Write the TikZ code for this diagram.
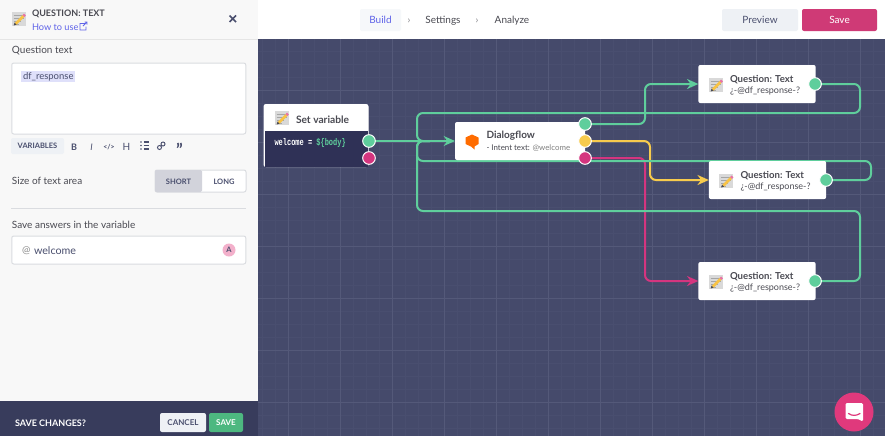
\documentclass[tikz,border=0pt]{standalone}
\usepackage{fontspec}
\setmainfont{Lato}
\newfontfamily\codefont[FakeStretch=0.72]{Liberation Mono}
\usetikzlibrary{arrows.meta,shapes.geometric}
\definecolor{canvas}{HTML}{454A6B}
\definecolor{gridminor}{HTML}{494E6F}
\definecolor{gridmajor}{HTML}{545979}
\definecolor{panel}{HTML}{F8F8F8}
\definecolor{bar}{HTML}{383C5C}
\definecolor{ink}{HTML}{4A4A52}
\definecolor{navy}{HTML}{4A4F6E}
\definecolor{linkblue}{HTML}{5F63E8}
\definecolor{edgegray}{HTML}{DADCE0}
\definecolor{chip}{HTML}{EEF1F5}
\definecolor{green}{HTML}{5FCE9C}
\definecolor{yellowl}{HTML}{F7CB4D}
\definecolor{pink}{HTML}{D4357F}
\definecolor{savebtn}{HTML}{CF3A76}
\definecolor{savegreen}{HTML}{4DB880}
\definecolor{codebg}{HTML}{2F3156}
\definecolor{chat}{HTML}{E0397C}
\pgfdeclarelayer{grid}\pgfdeclarelayer{conn}\pgfsetlayers{grid,conn,main}
\newcommand{\pxs}[1]{\fontsize{\dimexpr#1pt*3/4\relax}{\dimexpr#1pt\relax}\selectfont}
\tikzset{
  x=0.75pt,y=-0.75pt,
  txt/.style={inner sep=0pt,outer sep=0pt,anchor=west,text=ink,yshift=-0.6pt,font=\pxs{10}},
  ctxt/.style={inner sep=0pt,outer sep=0pt,anchor=center,text=navy,yshift=-0.6pt,font=\pxs{10}},
  tool/.style={ctxt,font=\pxs{9}\bfseries},
  box/.style={draw=edgegray,line width=0.75pt,fill=white,rounded corners=1.5pt,inner sep=0pt,outer sep=0pt},
  card/.style={fill=white,rounded corners=1.5pt,inner sep=0pt,outer sep=0pt,minimum width=88pt,minimum height=28.5pt},
  portg/.style={circle,fill=green,draw=white,line width=0.75pt,minimum size=9.5pt,inner sep=0pt,outer sep=0pt},
  porty/.style={portg,fill=yellowl},
  portp/.style={portg,fill=pink},
  wire/.style={line width=1.5pt,rounded corners=4.5pt},
  tipped/.style={-{Stealth[length=8.5pt,width=7.5pt]}},
  memo/.pic={
    \fill[black!15] (-7,-7) rectangle (7,7);
    \draw[black!35,line width=0.4pt] (-5,-4) -- (5,-4) (-5,-1) -- (5,-1) (-5,2) -- (2,2) (-5,5) -- (0,5);
    \draw[yellowl!90!orange,line width=2pt] (-3,5) -- (5,-3);
    \draw[chat!70,line width=2pt] (5,-3) -- (6.5,-4.5);
    \fill[ink] (-4.8,6.5) -- (-4,3.7) -- (-2,5.7) -- cycle;
  }
}
\begin{document}
\begin{tikzpicture}
\useasboundingbox (0,0) rectangle (885,436);
\begin{pgfonlayer}{grid}
\fill[canvas] (0,0) rectangle (885,436);
\foreach \k in {0,...,48}{\draw[gridminor,line width=0.4pt] (\k*13+262,39) -- (\k*13+262,436);}
\foreach \k in {0,...,31}{\draw[gridminor,line width=0.4pt] (258,\k*13+38) -- (885,\k*13+38);}
\foreach \k in {0,...,12}{\draw[gridmajor,line width=0.6pt] (\k*52+288,39) -- (\k*52+288,436);}
\foreach \k in {0,...,7}{\draw[gridmajor,line width=0.6pt] (258,\k*52+38) -- (885,\k*52+38);}
\end{pgfonlayer}

% top bar
\fill[white] (258,0) rectangle (885,39);
\node[fill=chip!50!white,rounded corners=1.5pt,minimum width=30.75pt,minimum height=16.5pt,inner sep=0pt,text=linkblue,font=\pxs{10}] (build) at (380.5,20) {Build};
\node[ctxt,text=ink!70] (sep1) at (409,20) {›};
\node[ctxt,text=ink] (settings) at (443,20) {Settings};
\node[ctxt,text=ink!70] (sep2) at (477,20) {›};
\node[ctxt,text=ink] (analyze) at (512,20) {Analyze};
\node[fill=chip,rounded corners=1.5pt,minimum width=57pt,minimum height=16.5pt,inner sep=0pt,text=navy,font=\pxs{10}] (preview) at (760,20) {Preview};
\node[fill=savebtn,rounded corners=1.5pt,minimum width=56.25pt,minimum height=16.5pt,inner sep=0pt,text=white,font=\pxs{10}] (savetop) at (839.5,20) {Save};

% side panel
\fill[panel] (0,0) rectangle (258,401);
\draw[black!10,line width=0.75pt] (0,39) -- (258,39);
\fill[bar] (0,401) rectangle (258,436);
\pic at (18.5,19) {memo};
\node[txt,font=\pxs{9}\bfseries] (title) at (32,13.5) {QUESTION: TEXT};
\node[txt,text=linkblue,font=\pxs{9.2}] (howto) at (32,26) {How to use};
\draw[linkblue,line width=0.6pt] (85,23.5) -- (80,23.5) -- (80,30) -- (86,30) -- (86,26.5) (83,26) -- (87,22) (84.5,22) -- (87,22) -- (87,24.5);
\draw[navy,line width=1.1pt] (229.5,15.5) -- (236,22) (236,15.5) -- (229.5,22);
\node[txt] (qlabel) at (12,50) {Question text};
\node[box,minimum width=175.5pt,minimum height=53.25pt] (qbox) at (128.75,98.5) {};
\fill[linkblue!20!white] (21,71) rectangle (75,82);
\node[txt,text=navy,font=\pxs{9.5}] (dfr) at (23,76.5) {df\_response};
\node[fill=chip,rounded corners=1.5pt,minimum width=39.75pt,minimum height=12pt,inner sep=0pt,text=navy,font=\pxs{7.5}\bfseries] (vars) at (37.5,146) {VARIABLES};
\node[tool] (tb) at (74,146) {B};
\node[tool,font=\pxs{9}\itshape] (ti) at (91.5,146) {I};
\node[tool,font=\pxs{7}\bfseries] (tc) at (109,146) {</>};
\node[tool,font=\pxs{10}] (th) at (126.5,146) {H};
\foreach \y in {142,145.5,149}{\draw[navy,line width=0.8pt] (143.5,\y) -- (149,\y); \fill[navy] (141,\y) circle (0.9);}
\draw[navy,line width=0.7pt] (159.5,147.5) circle (2) (163,144) circle (2) (160.8,146.2) -- (161.7,145.3);
\node[tool,font=\fontsize{13pt}{13pt}\bfseries] (tq) at (179.5,149.5) {”};
\node[txt] (sizel) at (12,180) {Size of text area};
\node[box,minimum width=68.25pt,minimum height=16.5pt] (sizebox) at (200.5,181) {};
\fill[navy!25!white,rounded corners=1pt] (155,170) rectangle (202,192);
\node[ctxt,font=\pxs{7.5}\bfseries] (short) at (178.5,181) {SHORT};
\node[ctxt,font=\pxs{7.5}\bfseries] (long) at (224,181) {LONG};
\draw[edgegray,line width=0.75pt] (11,208.5) -- (246,208.5);
\node[txt] (savel) at (12,224) {Save answers in the variable};
\node[box,minimum width=175.5pt,minimum height=21pt] (varbox) at (128.75,250) {};
\node[txt,text=black!45] (at) at (22,250) {@};
\node[txt,text=navy,font=\pxs{10.7}] (wel) at (34,250) {welcome};
\node[circle,fill=chat!40!white,minimum size=9.75pt,inner sep=0pt,text=navy,font=\pxs{7.5}\bfseries] (avatar) at (229,250) {A};
\node[txt,text=white,font=\pxs{9}\bfseries] (savech) at (15,422) {SAVE CHANGES?};
\node[fill=chip,rounded corners=1.5pt,minimum width=34.5pt,minimum height=14.25pt,inner sep=0pt,text=navy,font=\pxs{8}\bfseries] (cancel) at (183,422.5) {CANCEL};
\node[fill=savegreen,rounded corners=1.5pt,minimum width=25.5pt,minimum height=14.25pt,inner sep=0pt,text=white,font=\pxs{8}\bfseries] (save) at (226,422.5) {SAVE};

% flow nodes
\node[fill=white,draw=white,line width=0.75pt,rounded corners=1.5pt,minimum width=78pt,minimum height=46.5pt,inner sep=0pt,outer sep=0pt] (sv) at (316,135.5) {};
\fill[codebg] (265,131) rectangle (368,166.5);
\pic at (281.5,118) {memo};
\node[txt,font=\pxs{10.2}\bfseries] (svt) at (296,118.5) {Set variable};
\node[txt,text=white,font=\codefont\pxs{9.7}\bfseries] (svc) at (274.5,142) {welcome = \textcolor{green}{\$\{body\}}};
\node[card,minimum width=97.5pt] (df) at (520,141) {};
\fill[orange!85!red] (472,134.5) -- (478.5,137.5) -- (478.5,144) -- (474.5,146.5) -- (474.5,149.5) -- (471,146.5) -- (465.5,144) -- (465.5,137.5) -- cycle;
\node[txt,font=\pxs{10}\bfseries] (dft) at (486.5,135) {Dialogflow};
\node[txt,font=\pxs{7.9}] (dfs) at (486.5,147) {- Intent text: \textcolor{black!50}{@welcome}};
\node[card] (qa) at (757,84) {};
\node[card] (qb) at (767.5,180) {};
\node[card] (qc) at (757,281) {};
\pic at (715.5,85) {memo};
\pic at (726,181) {memo};
\pic at (715.5,282) {memo};
\node[txt,font=\pxs{9.6}\bfseries] (qat) at (730,78.5) {Question: Text};
\node[txt,font=\pxs{9}] (qas) at (730,90) {¿-@df\_response-?};
\node[txt,font=\pxs{9.6}\bfseries] (qbt) at (740.5,174.5) {Question: Text};
\node[txt,font=\pxs{9}] (qbs) at (740.5,186) {¿-@df\_response-?};
\node[txt,font=\pxs{9.6}\bfseries] (qct) at (730,275.5) {Question: Text};
\node[txt,font=\pxs{9}] (qcs) at (730,287) {¿-@df\_response-?};
\node[portg] (svg) at (369,141) {};
\node[portp] (svp) at (369,158) {};
\node[portg] (dfg) at (585,124) {};
\node[porty] (dfy) at (585,141) {};
\node[portp] (dfp) at (585,158) {};
\node[portg] (qap) at (815,84) {};
\node[portg] (qbp) at (826,180) {};
\node[portg] (qcp) at (815,281) {};

% connector bends
\coordinate (a1) at (860,84);\coordinate (a2) at (860,113);\coordinate (a3) at (417,113);\coordinate (m) at (417,141);
\coordinate (b1) at (871,180);\coordinate (b2) at (871,161);\coordinate (b3) at (417,161);
\coordinate (c1) at (860,281);\coordinate (c2) at (860,211);\coordinate (c3) at (417,211);
\coordinate (d1) at (645,124);\coordinate (d2) at (645,84);
\coordinate (e1) at (650,141);\coordinate (e2) at (650,180);
\coordinate (f1) at (645,158);\coordinate (f2) at (645,281);
\coordinate (mj) at (430,141);
\begin{pgfonlayer}{conn}
\draw[wire,pink,tipped] (dfp.center) -- (f1) -- (f2) -- (qc.west);
\draw[wire,yellowl,tipped] (dfy.center) -- (e1) -- (e2) -- (qb.west);
\draw[wire,green] (qap.center) -- (a1) -- (a2) -- (a3) -- (m) -- (mj);
\draw[wire,green] (qbp.center) -- (b1) -- (b2) -- (b3) -- (m) -- (mj);
\draw[wire,green] (qcp.center) -- (c1) -- (c2) -- (c3) -- (m) -- (mj);
\draw[wire,green,tipped] (dfg.center) -- (d1) -- (d2) -- (qa.west);
\draw[wire,green,tipped] (svg.center) -- (df.west);
\end{pgfonlayer}

% chat button
\node[circle,fill=chat,minimum size=29.25pt,inner sep=0pt] (chatbtn) at (854,412) {};
\fill[white,rounded corners=1pt] (845.5,403) -- (863,403) -- (863,421.5) -- (858,419) -- (845.5,419) -- cycle;
\draw[chat,line width=0.9pt,line cap=round] (848.5,413.5) .. controls (852,416) and (856,416) .. (860,413.5);
\end{tikzpicture}
\end{document}
